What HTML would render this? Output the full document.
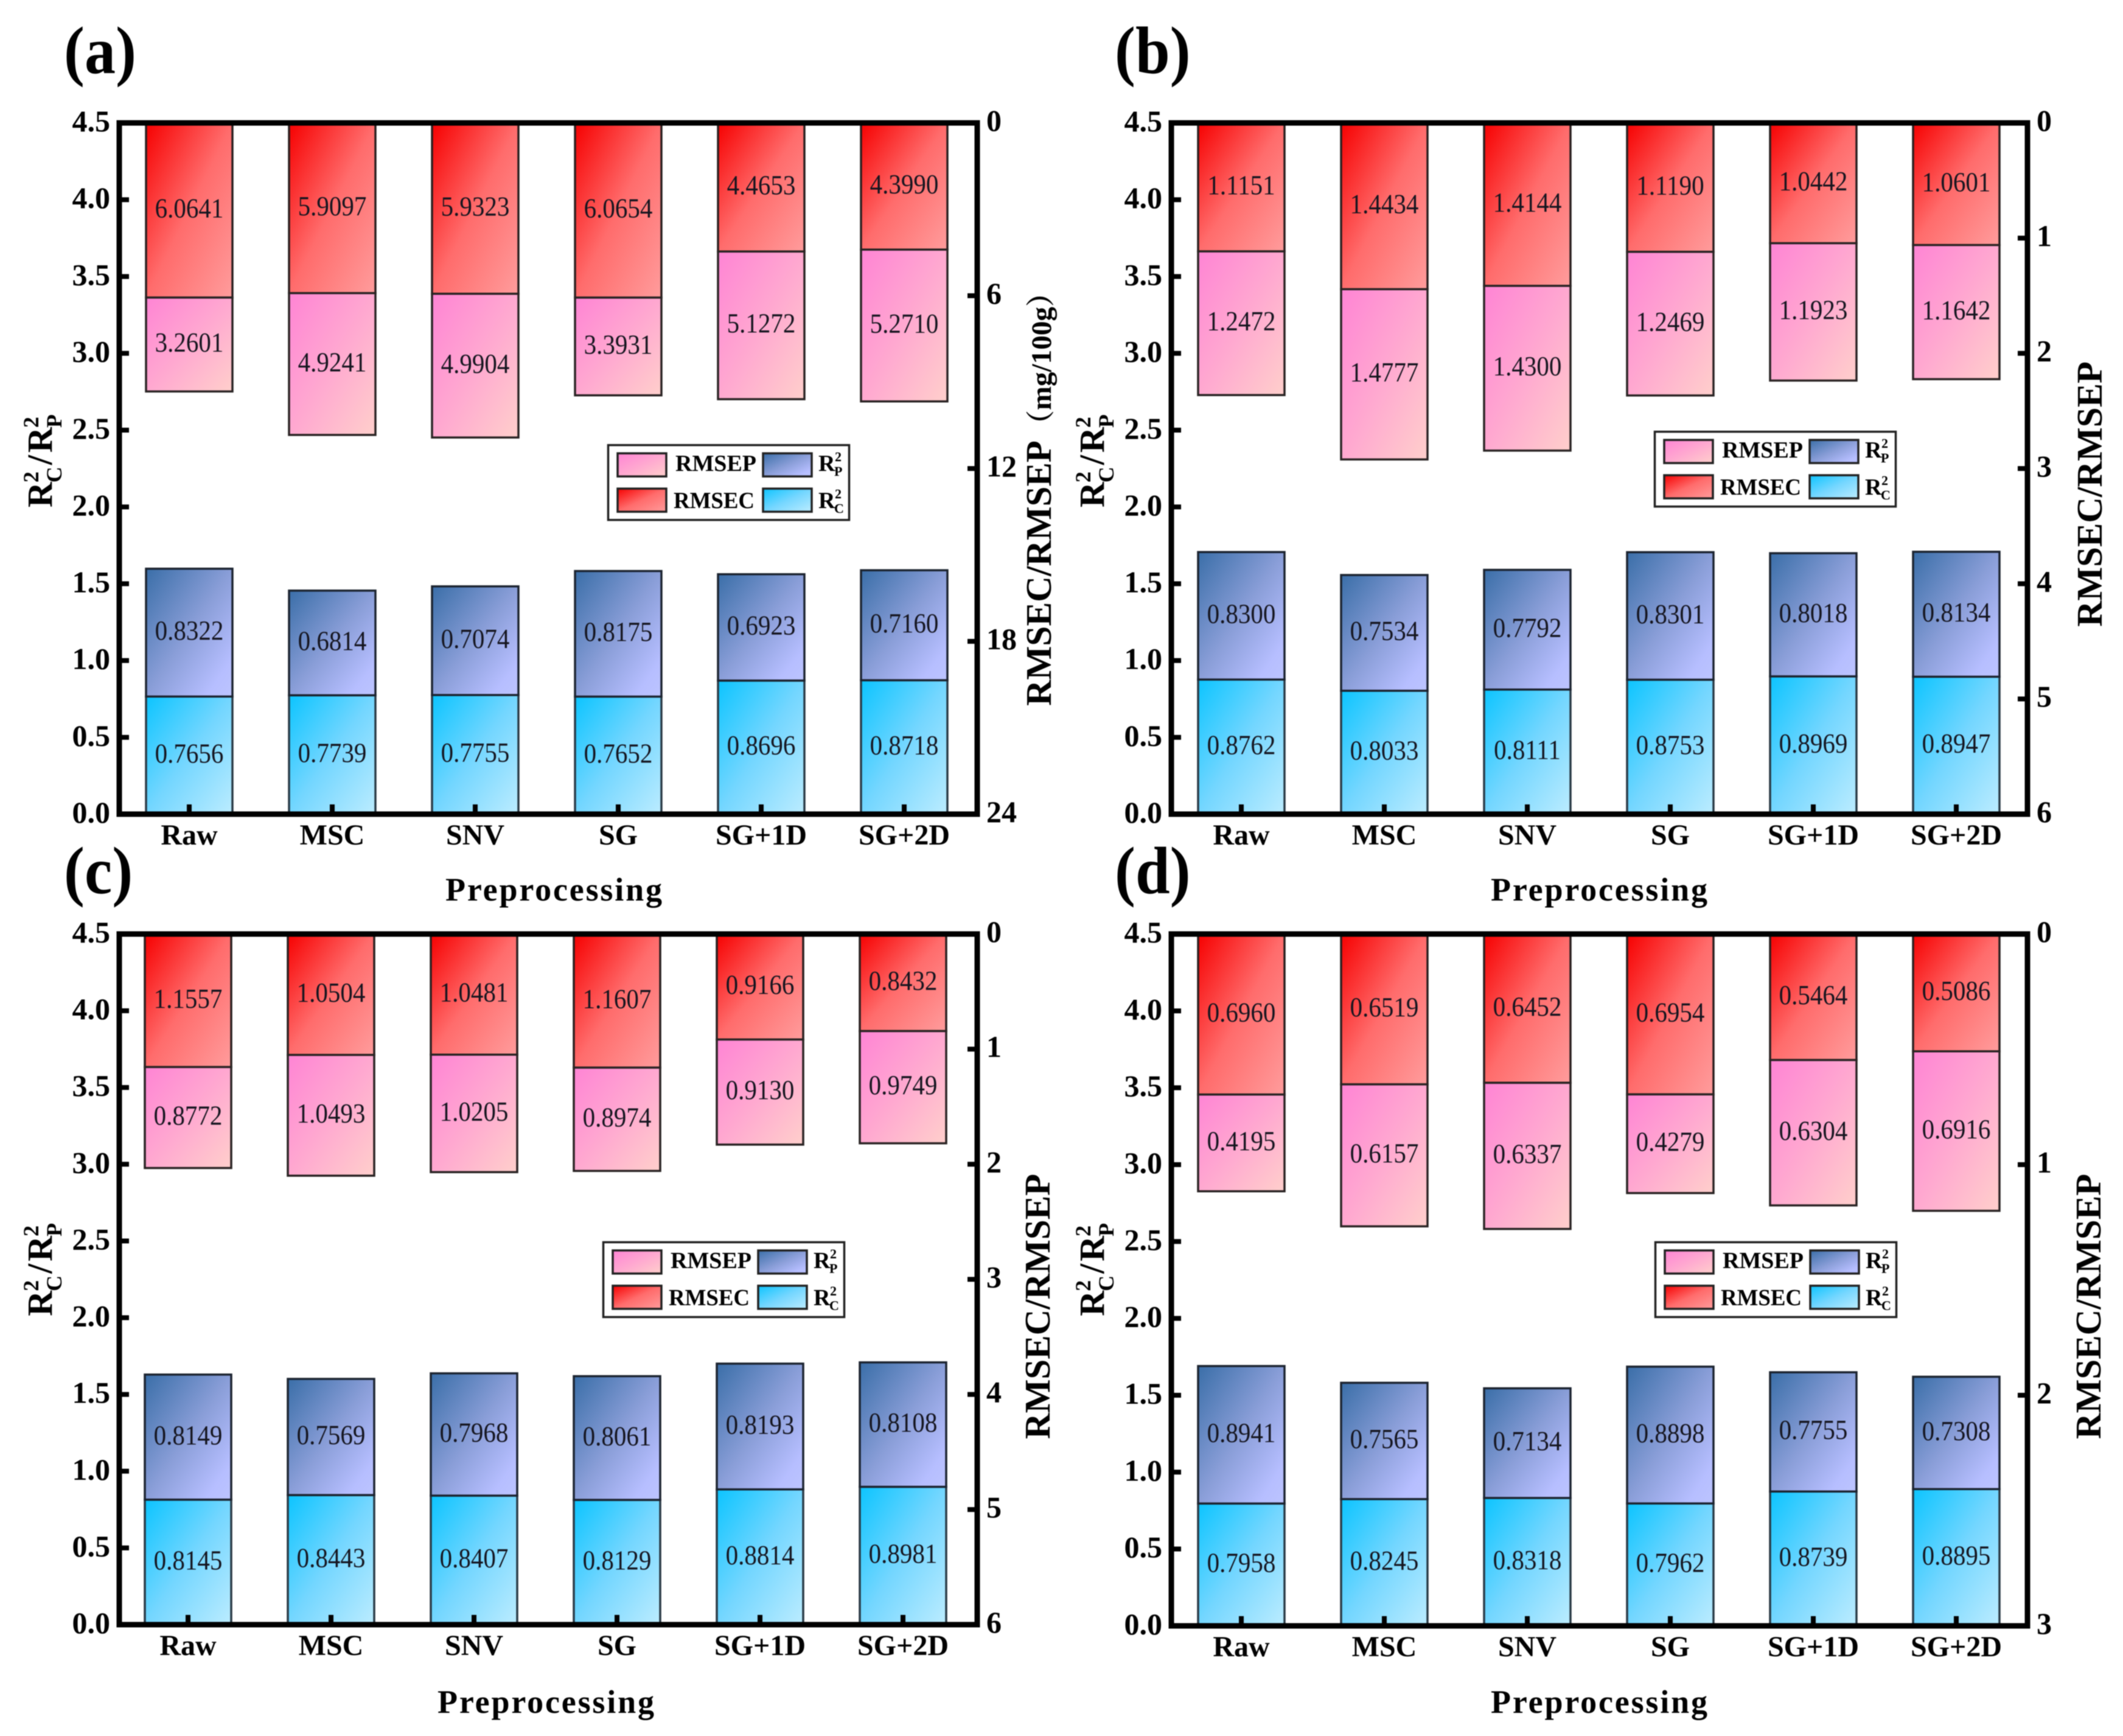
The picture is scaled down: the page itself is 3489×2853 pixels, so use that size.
<!DOCTYPE html>
<html lang="en">
<head>
<meta charset="utf-8">
<title>Preprocessing comparison of R² and RMSE values</title>
<style>
html,body{margin:0;padding:0;background:#fff;}
svg{display:block;filter:blur(0.8px);}
text{font-family:"Liberation Serif","Noto Serif CJK SC",serif;fill:#000;}
</style>
</head>
<body>
<svg id="figure" xmlns="http://www.w3.org/2000/svg" width="3489" height="2853" viewBox="0 0 3489 2853">
<defs>
<linearGradient id="g-rc" x1="0" y1="0" x2="1" y2="1"><stop offset="0" stop-color="#0cc4ff"/><stop offset="0.5" stop-color="#74d6ff"/><stop offset="1" stop-color="#bcecff"/></linearGradient>
<linearGradient id="g-rp" x1="0" y1="0" x2="1" y2="1"><stop offset="0" stop-color="#3a6ea8"/><stop offset="0.5" stop-color="#8a9ed8"/><stop offset="0.85" stop-color="#b6beff"/><stop offset="1" stop-color="#bcc4ff"/></linearGradient>
<linearGradient id="g-rmsec" x1="0" y1="0" x2="1" y2="1"><stop offset="0" stop-color="#f60000"/><stop offset="0.5" stop-color="#ff6c6c"/><stop offset="1" stop-color="#ff9c9c"/></linearGradient>
<linearGradient id="g-rmsep" x1="0" y1="0" x2="1" y2="1"><stop offset="0" stop-color="#ff84d4"/><stop offset="0.5" stop-color="#ffa8d0"/><stop offset="1" stop-color="#ffcfcb"/></linearGradient>
</defs>
</svg>
<script>
const categories = ['Raw', 'MSC', 'SNV', 'SG', 'SG+1D', 'SG+2D'];
const leftTickLabels = ['0.0', '0.5', '1.0', '1.5', '2.0', '2.5', '3.0', '3.5', '4.0', '4.5'];

const rcA = [0.7656, 0.7739, 0.7755, 0.7652, 0.8696, 0.8718];
const rpA = [0.8322, 0.6814, 0.7074, 0.8175, 0.6923, 0.7160];
const rmsecA = [6.0641, 5.9097, 5.9323, 6.0654, 4.4653, 4.3990];
const rmsepA = [3.2601, 4.9241, 4.9904, 3.3931, 5.1272, 5.2710];
const rightTicksA = [0, 6, 12, 18, 24];

const rcB = [0.8762, 0.8033, 0.8111, 0.8753, 0.8969, 0.8947];
const rpB = [0.8300, 0.7534, 0.7792, 0.8301, 0.8018, 0.8134];
const rmsecB = [1.1151, 1.4434, 1.4144, 1.1190, 1.0442, 1.0601];
const rmsepB = [1.2472, 1.4777, 1.4300, 1.2469, 1.1923, 1.1642];
const rightTicksB = [0, 1, 2, 3, 4, 5, 6];

const rcC = [0.8145, 0.8443, 0.8407, 0.8129, 0.8814, 0.8981];
const rpC = [0.8149, 0.7569, 0.7968, 0.8061, 0.8193, 0.8108];
const rmsecC = [1.1557, 1.0504, 1.0481, 1.1607, 0.9166, 0.8432];
const rmsepC = [0.8772, 1.0493, 1.0205, 0.8974, 0.9130, 0.9749];
const rightTicksC = [0, 1, 2, 3, 4, 5, 6];

const rcD = [0.7958, 0.8245, 0.8318, 0.7962, 0.8739, 0.8895];
const rpD = [0.8941, 0.7565, 0.7134, 0.8898, 0.7755, 0.7308];
const rmsecD = [0.6960, 0.6519, 0.6452, 0.6954, 0.5464, 0.5086];
const rmsepD = [0.4195, 0.6157, 0.6337, 0.4279, 0.6304, 0.6916];
const rightTicksD = [0, 1, 2, 3];

const NS = 'http://www.w3.org/2000/svg';
const root = document.getElementById('figure');

function group(parent, name) {
  const el = document.createElementNS(NS, 'g');
  
  
  parent.appendChild(el);
  return el;
}

function rect(parent, name, x, y, w, h, fill, stroke, sw) {
  const el = document.createElementNS(NS, 'rect');
  
  
  el.setAttribute('x', x);
  el.setAttribute('y', y);
  el.setAttribute('width', w);
  el.setAttribute('height', h);
  el.setAttribute('fill', fill);
  if (stroke) {
    el.setAttribute('stroke', stroke);
    el.setAttribute('stroke-width', sw);
  }
  parent.appendChild(el);
  return el;
}

function label(parent, name, x, y, str, size, o) {
  o = o || {};
  const el = document.createElementNS(NS, 'text');
  
  
  el.setAttribute('font-size', size);
  el.setAttribute('font-weight', o.regular ? '400' : '700');
  el.setAttribute('text-anchor', o.anchor || 'start');
  let t = 'translate(' + x + ' ' + y + ')';
  if (o.rotate) t += ' rotate(' + o.rotate + ')';
  if (o.sy) t += ' scale(1 ' + o.sy + ')';
  el.setAttribute('transform', t);
  if (o.len) {
    el.setAttribute('textLength', o.len);
    el.setAttribute('lengthAdjust', o.adjust || 'spacing');
  }
  if (o.fill) el.style.fill = o.fill;
  el.textContent = str;
  parent.appendChild(el);
  return el;
}

function drawYTitle(g, baseX, startY) {
  const t = group(g, 'left-axis-title');
  label(t, 'axis-title-r', baseX, startY, 'R', 58, {rotate: -90});
  label(t, 'axis-title-sup', baseX - 22, startY - 41, '2', 36, {rotate: -90});
  label(t, 'axis-title-sub-c', baseX + 16, startY - 41, 'C', 36, {rotate: -90});
  label(t, 'axis-title-slash', baseX, startY - 70, '/', 58, {rotate: -90});
  label(t, 'axis-title-r', baseX, startY - 90, 'R', 58, {rotate: -90});
  label(t, 'axis-title-sup', baseX - 22, startY - 131, '2', 36, {rotate: -90});
  label(t, 'axis-title-sub-p', baseX + 16, startY - 131, 'P', 36, {rotate: -90});
}

function drawLegend(g, x, y) {
  const l = group(g, 'legend');
  rect(l, 'legend-frame', x + 1.5, y + 1.5, 396, 123, '#fff', '#222', 3.5);
  rect(l, 'legend-swatch-rmsep', x + 17, y + 15, 80, 38, 'url(#g-rmsep)', '#222', 3.5);
  rect(l, 'legend-swatch-rp', x + 256, y + 15, 80, 38, 'url(#g-rp)', '#222', 3.5);
  rect(l, 'legend-swatch-rmsec', x + 17, y + 73, 80, 38, 'url(#g-rmsec)', '#222', 3.5);
  rect(l, 'legend-swatch-rc', x + 256, y + 73, 80, 38, 'url(#g-rc)', '#222', 3.5);
  label(l, 'legend-label-rmsep', x + 112, y + 44, 'RMSEP', 38, {len: 133, adjust: 'spacingAndGlyphs'});
  label(l, 'legend-label-rmsec', x + 109, y + 105, 'RMSEC', 38, {len: 133, adjust: 'spacingAndGlyphs'});
  label(l, 'legend-label-rp', x + 347, y + 44, 'R', 38);
  label(l, 'legend-label-rp-sup', x + 374, y + 28, '2', 22);
  label(l, 'legend-label-rp-sub', x + 373, y + 52, 'P', 22);
  label(l, 'legend-label-rc', x + 347, y + 105, 'R', 38);
  label(l, 'legend-label-rc-sup', x + 374, y + 89, '2', 22);
  label(l, 'legend-label-rc-sub', x + 373, y + 113, 'C', 22);
}

function drawPanel(p, rc, rp, rmsec, rmsep, rightTicks) {
  const g = group(root, 'panel-' + p.id);
  const leftMax = 4.5;
  const rightMax = rightTicks[rightTicks.length - 1];
  const yLeft = v => p.bottom - (v / leftMax) * (p.bottom - p.top);
  const yRight = v => p.top + (v / rightMax) * (p.bottom - p.top);
  const xCat = i => p.x0 + i * p.step;
  const barW = 142;

  categories.forEach(function (cat, i) {
    const x = xCat(i) - barW / 2;
    const c = rc[i], pr = rp[i], ec = rmsec[i], ep = rmsep[i];
    const bars = group(g, 'bars-' + cat.toLowerCase().replace('+', '-'));
    rect(bars, 'bar-rc', x, yLeft(c), barW, yLeft(0) - yLeft(c), 'url(#g-rc)', '#2a3a46', 3.5);
    rect(bars, 'bar-rp', x, yLeft(c + pr), barW, yLeft(c) - yLeft(c + pr), 'url(#g-rp)', '#1c2430', 3.5);
    rect(bars, 'bar-rmsec', x, yRight(0), barW, yRight(ec) - yRight(0), 'url(#g-rmsec)', '#2a2020', 3.5);
    rect(bars, 'bar-rmsep', x, yRight(ec), barW, yRight(ec + ep) - yRight(ec), 'url(#g-rmsep)', '#2a2424', 3.5);
    const opts = {anchor: 'middle', regular: true, sy: 1.12, fill: '#15151f'};
    label(bars, 'value-rc', xCat(i), yLeft(c / 2) + 12, c.toFixed(4), 41, opts);
    label(bars, 'value-rp', xCat(i), yLeft(c + pr / 2) + 12, pr.toFixed(4), 41, opts);
    label(bars, 'value-rmsec', xCat(i), yRight(ec / 2) + 12, ec.toFixed(4), 41, opts);
    label(bars, 'value-rmsep', xCat(i), yRight(ec + ep / 2) + 12, ep.toFixed(4), 41, opts);
  });

  const axes = group(g, 'axes');
  const frame = rect(axes, 'plot-frame', p.left, p.top, p.right - p.left, p.bottom - p.top, 'none', '#000', 9);
  frame.setAttribute('stroke-linejoin', 'miter');

  leftTickLabels.forEach(function (t) {
    const y = yLeft(parseFloat(t));
    rect(axes, 'left-tick', p.left, y - 4, 16, 8, '#000');
    label(axes, 'left-tick-label', p.left - 15, y + 14, t, 50, {anchor: 'end'});
  });
  rightTicks.forEach(function (t) {
    const y = yRight(t);
    rect(axes, 'right-tick', p.right - 16, y - 4, 16, 8, '#000');
    label(axes, 'right-tick-label', p.right + 15, y + 13, String(t), 50);
  });
  categories.forEach(function (cat, i) {
    rect(axes, 'x-tick', xCat(i) - 4, p.bottom - 16, 8, 16, '#000');
    label(axes, 'x-tick-label', xCat(i), p.bottom + 50, cat, 48, {anchor: 'middle'});
  });

  label(g, 'panel-letter', p.letterX, p.letterY, '(' + p.id + ')', 102, {sy: 1.08});
  label(g, 'x-axis-title', p.xtX, p.xtY, 'Preprocessing', 54, {anchor: 'middle', len: 356});
  drawYTitle(g, p.ytX, p.ytY);

  const rt = group(g, 'right-axis-title');
  label(rt, 'right-axis-title-main', p.rtX, p.rtY, 'RMSEC/RMSEP', 59, {rotate: -90});
  if (p.unit) {
    label(rt, 'right-axis-title-unit', p.rtX, p.rtY - 439, '（mg/100g）', 47, {rotate: -90});
  }
  drawLegend(g, p.legX, p.legY);
}

drawPanel({id: 'a', left: 196, right: 1606, top: 202, bottom: 1338, x0: 311, step: 235,
  letterX: 105, letterY: 120, xtX: 910, xtY: 1480, ytX: 85, ytY: 834, rtX: 1727, rtY: 1160, unit: true,
  legX: 998, legY: 730}, rcA, rpA, rmsecA, rmsepA, rightTicksA);

drawPanel({id: 'b', left: 1925, right: 3332, top: 202, bottom: 1338, x0: 2040, step: 235,
  letterX: 1832, letterY: 120, xtX: 2628, xtY: 1480, ytX: 1814, ytY: 834, rtX: 3454, rtY: 1030,
  legX: 2718, legY: 708}, rcB, rpB, rmsecB, rmsepB, rightTicksB);

drawPanel({id: 'c', left: 196, right: 1606, top: 1535, bottom: 2670, x0: 309, step: 235,
  letterX: 105, letterY: 1468, xtX: 897, xtY: 2815, ytX: 85, ytY: 2163, rtX: 1725, rtY: 2365,
  legX: 990, legY: 2040}, rcC, rpC, rmsecC, rmsepC, rightTicksC);

drawPanel({id: 'd', left: 1925, right: 3332, top: 1535, bottom: 2672, x0: 2040, step: 235,
  letterX: 1832, letterY: 1468, xtX: 2628, xtY: 2815, ytX: 1814, ytY: 2163, rtX: 3452, rtY: 2365,
  legX: 2719, legY: 2040}, rcD, rpD, rmsecD, rmsepD, rightTicksD);
</script>
</body>
</html>
